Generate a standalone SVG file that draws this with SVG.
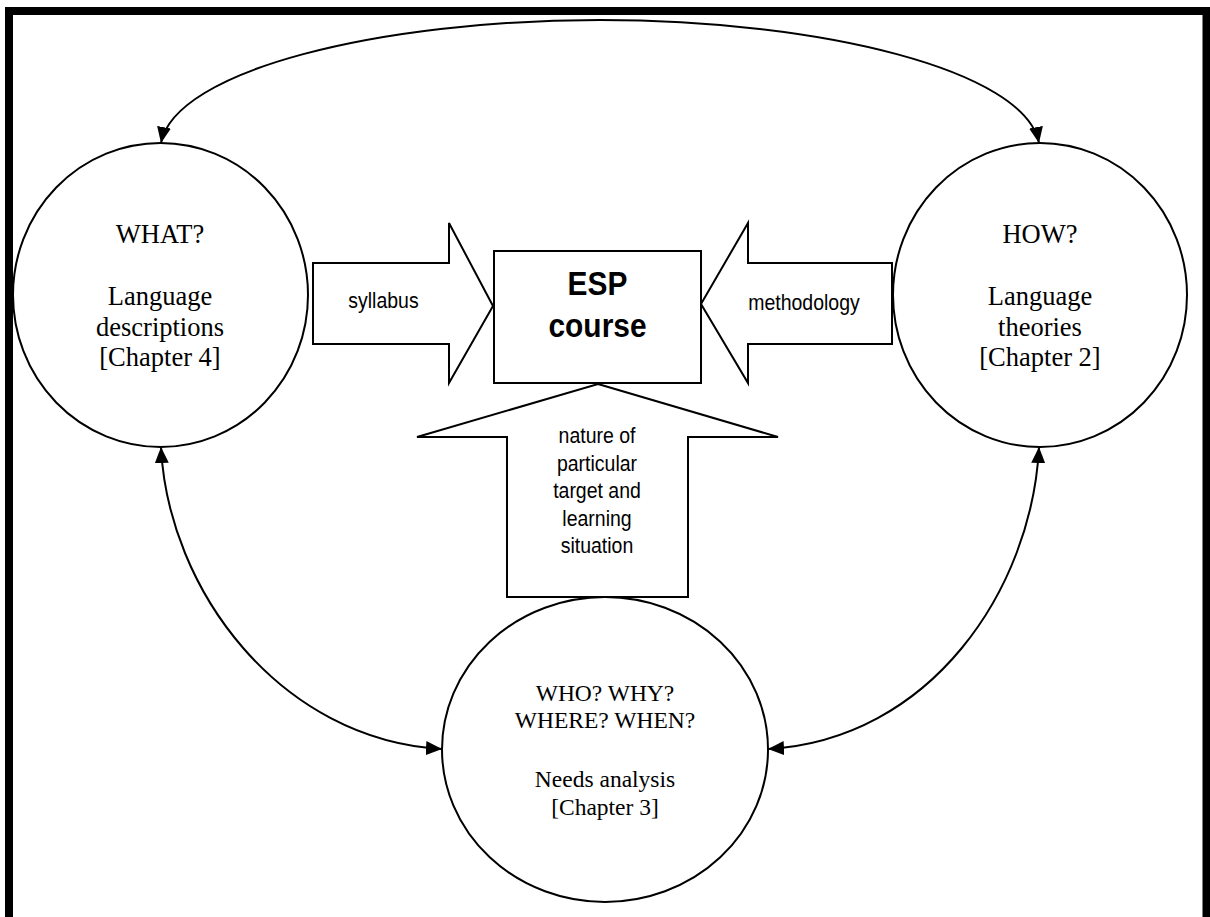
<svg xmlns="http://www.w3.org/2000/svg" width="1210" height="917" viewBox="0 0 1210 917">
  <style>
    .shape { fill: #ffffff; stroke: #000000; stroke-width: 2; }
    .conn { fill: none; stroke: #000000; stroke-width: 2; }
    .serif { font-family: "Liberation Serif", "Times New Roman", serif; fill: #000000; text-anchor: middle; }
    .big { font-size: 26.5px; }
    .mid { font-size: 23.5px; }
    .sans { font-family: "Liberation Sans", Arial, sans-serif; fill: #000000; text-anchor: middle; font-size: 22px; }
    .title { font-family: "Liberation Sans", Arial, sans-serif; fill: #000000; text-anchor: middle; font-size: 32.5px; font-weight: bold; }
  </style>
  <defs>
    <marker id="ah" viewBox="0 0 16 14" refX="16" refY="7" markerWidth="16" markerHeight="14" markerUnits="userSpaceOnUse" orient="auto-start-reverse">
      <path d="M0,0 L16,7 L0,14 Z" fill="#000000"/>
    </marker>
  </defs>
  <rect x="0" y="0" width="1210" height="917" fill="#ffffff"/>
  <path d="M9,917 V11 H1206.5 V917" fill="none" stroke="#000000" stroke-width="8"/>

  <g id="connectors">
    <path class="conn" d="M161,143 C175,70 380,20 600,20 C820,20 1025,70 1039,143" marker-start="url(#ah)" marker-end="url(#ah)"/>
    <path class="conn" d="M161,447 C168,590 280,740 442,749" marker-start="url(#ah)" marker-end="url(#ah)"/>
    <path class="conn" d="M1039,447 C1032,590 930,740 768,749" marker-start="url(#ah)" marker-end="url(#ah)"/>
  </g>

  <g id="what">
    <ellipse class="shape" cx="160.5" cy="295" rx="147.5" ry="152"/>
    <text class="serif big" x="160" y="243">WHAT?</text>
    <text class="serif big" x="160" y="305">Language</text>
    <text class="serif big" x="160" y="335.5">descriptions</text>
    <text class="serif big" x="160" y="366">[Chapter 4]</text>
  </g>

  <g id="how">
    <ellipse class="shape" cx="1040" cy="295" rx="147" ry="152"/>
    <text class="serif big" x="1040" y="243">HOW?</text>
    <text class="serif big" x="1040" y="305">Language</text>
    <text class="serif big" x="1040" y="335.5">theories</text>
    <text class="serif big" x="1040" y="366">[Chapter 2]</text>
  </g>

  <g id="needs">
    <ellipse class="shape" cx="605" cy="749.5" rx="163" ry="152.5"/>
    <text class="serif mid" x="605" y="700.5">WHO? WHY?</text>
    <text class="serif mid" x="605" y="728">WHERE? WHEN?</text>
    <text class="serif mid" x="605" y="786.5">Needs analysis</text>
    <text class="serif mid" x="605" y="815">[Chapter 3]</text>
  </g>

  <g id="syllabus">
    <path class="shape" d="M313,263 H449 V223 L493,306 L449,383 V344 H313 Z"/>
    <text class="sans" transform="translate(383.5,308) scale(0.886,1)">syllabus</text>
  </g>

  <g id="methodology">
    <path class="shape" d="M892,263 H748 V223 L701,304 L748,383 V344 H892 Z"/>
    <text class="sans" transform="translate(804,310) scale(0.886,1)">methodology</text>
  </g>

  <g id="nature">
    <path class="shape" d="M598,384 L778,437 H688 V597 H507 V437 H417 Z"/>
    <text class="sans" transform="translate(597,443) scale(0.886,1)">nature of</text>
    <text class="sans" transform="translate(597,470.5) scale(0.886,1)">particular</text>
    <text class="sans" transform="translate(597,498) scale(0.886,1)">target and</text>
    <text class="sans" transform="translate(597,526) scale(0.886,1)">learning</text>
    <text class="sans" transform="translate(597,553) scale(0.886,1)">situation</text>
  </g>

  <g id="esp">
    <rect class="shape" x="494" y="251" width="207" height="132"/>
    <text class="title" transform="translate(597.5,295) scale(0.92,1)">ESP</text>
    <text class="title" transform="translate(597.5,337) scale(0.92,1)">course</text>
  </g>
</svg>
